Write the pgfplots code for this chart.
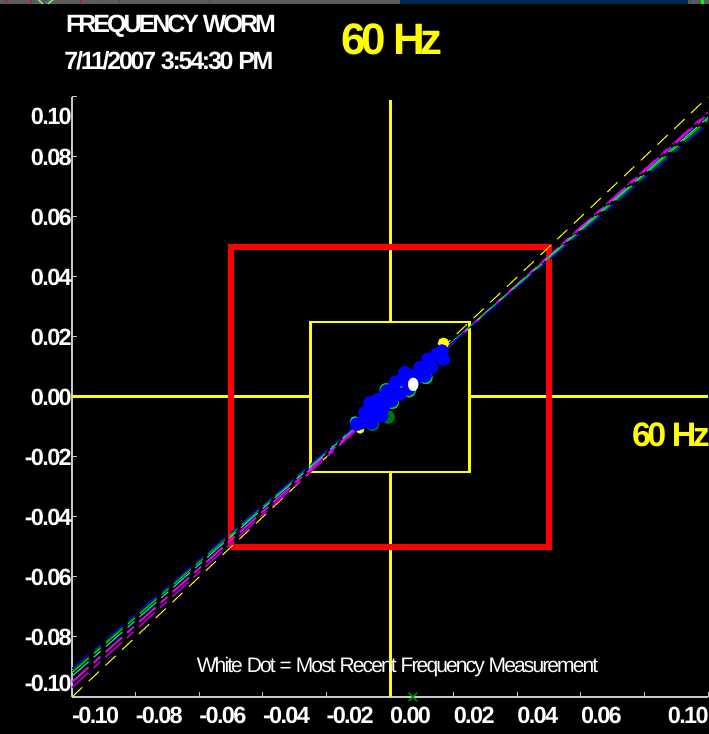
\documentclass[border=0pt]{standalone}
\usepackage{pgfplots}
\pgfplotsset{compat=1.18}
\usepackage{fontspec}
\setmainfont{Liberation Sans}

\definecolor{axisgrey}{RGB}{200,200,200}
\definecolor{stripgrey}{RGB}{92,92,92}
\definecolor{stripblue}{RGB}{0,42,86}
\definecolor{wormyellow}{RGB}{255,255,0}
\definecolor{wormred}{RGB}{255,0,0}
\definecolor{wormblue}{RGB}{0,0,255}
\definecolor{wormgreen}{RGB}{0,230,0}
\definecolor{wormdkgreen}{RGB}{0,120,0}
\definecolor{wormxgreen}{RGB}{0,150,0}
\definecolor{wormcyan}{RGB}{0,230,210}
\definecolor{wormmagenta}{RGB}{235,0,235}
\definecolor{wormpurple}{RGB}{170,0,200}

% tight, heavy lettering used throughout the display
\newcommand\ticklab{\fontsize{23.5bp}{26bp}\selectfont\bfseries\addfontfeatures{LetterSpace=-7}}

\begin{document}
\begin{tikzpicture}[x=1bp,y=1bp]
  \fill[black] (-72,-37) rectangle (637,697);
  \path[use as bounding box] (-72,-37) rectangle (637,697);
  % window strip along the top edge
  \fill[stripgrey] (-72,693) rectangle (637,697);
  \fill[stripblue] (328,693) rectangle (616,697);
  \draw[black!70,line width=0.8bp] (47,693) -- (47,697) (137,693) -- (137,697) (618,693) -- (618,697);
  \draw[red,line width=1bp] (-65,693) -- (-65,697) (-40,693) -- (-40,697) (8,693) -- (8,697);
  \draw[cyan,line width=1bp] (-35,697) -- (-31,693) (-26,693) -- (-21,697);
  \draw[wormyellow,line width=0.8bp] (-33,697) -- (-29,693) (-24,693) -- (-19,697);
  \fill[green] (629,693) rectangle (632,697);

  \begin{axis}[
    at={(0,0)}, anchor=south west,
    scale only axis, width=636bp, height=600bp,
    xmin=-0.1, xmax=0.1, ymin=-0.1, ymax=0.1,
    axis x line=bottom, axis y line=left,
    axis line style={draw=axisgrey, line width=1.2bp, -},
    tick style={draw=axisgrey, line width=1bp},
    tick align=inside, major tick length=5.5bp,
    xtick={-0.1,-0.08,-0.06,-0.04,-0.02,0,0.02,0.04,0.06,0.08,0.1},
    xticklabels={-0.10,-0.08,-0.06,-0.04,-0.02,0.00,0.02,0.04,0.06,{},\llap{0.10}},
    ytick={-0.1,-0.08,-0.06,-0.04,-0.02,0,0.02,0.04,0.06,0.08,0.1},
    yticklabels={\raisebox{14bp}{-0.10},-0.08,-0.06,-0.04,-0.02,0.00,0.02,0.04,0.06,0.08,\raisebox{-19bp}{0.10}},
    xticklabel style={anchor=north west, inner sep=0pt, yshift=-10bp, text=white, font=\ticklab},
    yticklabel style={anchor=base east, inner sep=0pt, yshift=-8.5bp, text=white, font=\ticklab},
    clip=false,
  ]
    % yellow cross hairs, broken by the inner box
    \addplot[wormyellow, line width=3bp] coordinates {(-0.1,0) (-0.025,0)};
    \addplot[wormyellow, line width=3bp] coordinates {(0.025,0) (0.1,0)};
    \addplot[wormyellow, line width=3bp] coordinates {(0,0.099) (0,0.025)};
    \addplot[wormyellow, line width=3bp] coordinates {(0,-0.025) (0,-0.1)};
    % inner (yellow) and outer (red) limit boxes
    \addplot[wormyellow, line width=2.6bp] coordinates {(-0.025,-0.025) (0.025,-0.025) (0.025,0.025) (-0.025,0.025) (-0.025,-0.025)};
    \addplot[wormred, line width=6.5bp] coordinates {(-0.05,-0.05) (0.05,-0.05) (0.05,0.05) (-0.05,0.05) (-0.05,-0.05)};
    % trend lines
    \addplot[wormyellow, line width=1bp, dash pattern=on 14bp off 9bp] coordinates {(-0.1,-0.1) (0.1,0.1)};
    \addplot[wormpurple, line width=1.6bp, dash pattern=on 22bp off 7bp on 9bp off 7bp] coordinates {(-0.1,-0.0968) (0.1,0.0950)};
    \addplot[wormmagenta, line width=1.8bp, dash pattern=on 22bp off 7bp on 9bp off 7bp] coordinates {(-0.1,-0.0950) (0.1,0.0943)};
    \addplot[wormcyan, line width=1.1bp, dash pattern=on 22bp off 7bp on 9bp off 7bp] coordinates {(-0.1,-0.0931) (0.1,0.0932)};
    \addplot[wormgreen, line width=1.1bp, dash pattern=on 22bp off 7bp on 9bp off 7bp] coordinates {(-0.1,-0.0919) (0.1,0.0925)};
    \addplot[wormdkgreen, line width=1bp, dash pattern=on 22bp off 7bp on 9bp off 7bp] coordinates {(-0.1,-0.0913) (0.1,0.0917)};
    \addplot[wormblue, line width=1.1bp, dash pattern=on 22bp off 7bp on 9bp off 7bp] coordinates {(-0.1,-0.0905) (0.1,0.0910)};
    % earlier readings peeking out from under the cluster
    \addplot[only marks, mark=*, mark size=6.5bp, wormgreen] coordinates {
      (-0.0012,0.0024) (0.0060,0.0021) (0.0113,0.0065) (0.0007,-0.0018) (0.0040,0.0055)};
    \addplot[only marks, mark=*, mark size=6.5bp, wormdkgreen] coordinates {
      (-0.0055,-0.0091) (-0.0006,-0.0067)};
    \addplot[only marks, mark=*, mark size=5bp, wormcyan] coordinates {
      (-0.0110,-0.0082) (-0.0064,-0.0086)};
    \addplot[only marks, mark=*, mark size=4bp, wormyellow] coordinates {(-0.0094,-0.0108)};
    \addplot[only marks, mark=*, mark size=5.5bp, wormyellow] coordinates {(0.0168,0.0179)};
    % frequency readings
    \addplot[only marks, mark=*, mark size=6.5bp, wormblue] coordinates {
      (-0.0105,-0.0091) (-0.0089,-0.0086) (-0.0079,-0.0052) (-0.0063,-0.0019)
      (-0.0058,-0.0086) (-0.0047,-0.0047) (-0.0037,-0.0008) (-0.0026,-0.0063)
      (-0.0021,-0.0036) (-0.0010,0.0020) (0.0005,-0.0013) (0.0016,0.0048)
      (0.0031,0.0009) (0.0037,0.0059) (0.0047,0.0081) (0.0058,0.0026)
      (0.0068,0.0070) (0.0084,0.0064) (0.0094,0.0098) (0.0110,0.0070)
      (0.0120,0.0126) (0.0131,0.0098) (0.0147,0.0142) (0.0163,0.0153)
      (0.0168,0.0126)};
    % most recent reading and its projection on the x axis
    \addplot[only marks, mark=*, mark size=5bp, white, mark options={yscale=1.3}] coordinates {(0.0073,0.0042)};
    \addplot[only marks, color=wormxgreen, mark=x, mark size=6bp, line width=1.3bp] coordinates {(0.0072,-0.1)};
  \end{axis}

  \node[anchor=base, text=white, inner sep=0pt, font=\fontsize{25bp}{28bp}\selectfont\bfseries\addfontfeatures{LetterSpace=-12}] at (99,664) {FREQUENCY WORM};
  \node[anchor=base, text=white, inner sep=0pt, font=\fontsize{25bp}{28bp}\selectfont\bfseries\addfontfeatures{LetterSpace=-9}] at (97,627) {7/11/2007 3:54:30 PM};
  \node[anchor=base, text=wormyellow, inner sep=0pt, font=\fontsize{44bp}{48bp}\selectfont\bfseries\addfontfeatures{LetterSpace=-11}] at (320,642) {60 Hz};
  \node[anchor=base, text=wormyellow, inner sep=0pt, font=\fontsize{34bp}{38bp}\selectfont\bfseries\addfontfeatures{LetterSpace=-11}] at (599,250) {60 Hz};
  \node[anchor=base, text=white, inner sep=0pt, font=\fontsize{21bp}{24bp}\selectfont\addfontfeatures{LetterSpace=-9}] at (325.5,24) {White Dot = Most Recent Frequency Measurement};
\end{tikzpicture}
\end{document}
